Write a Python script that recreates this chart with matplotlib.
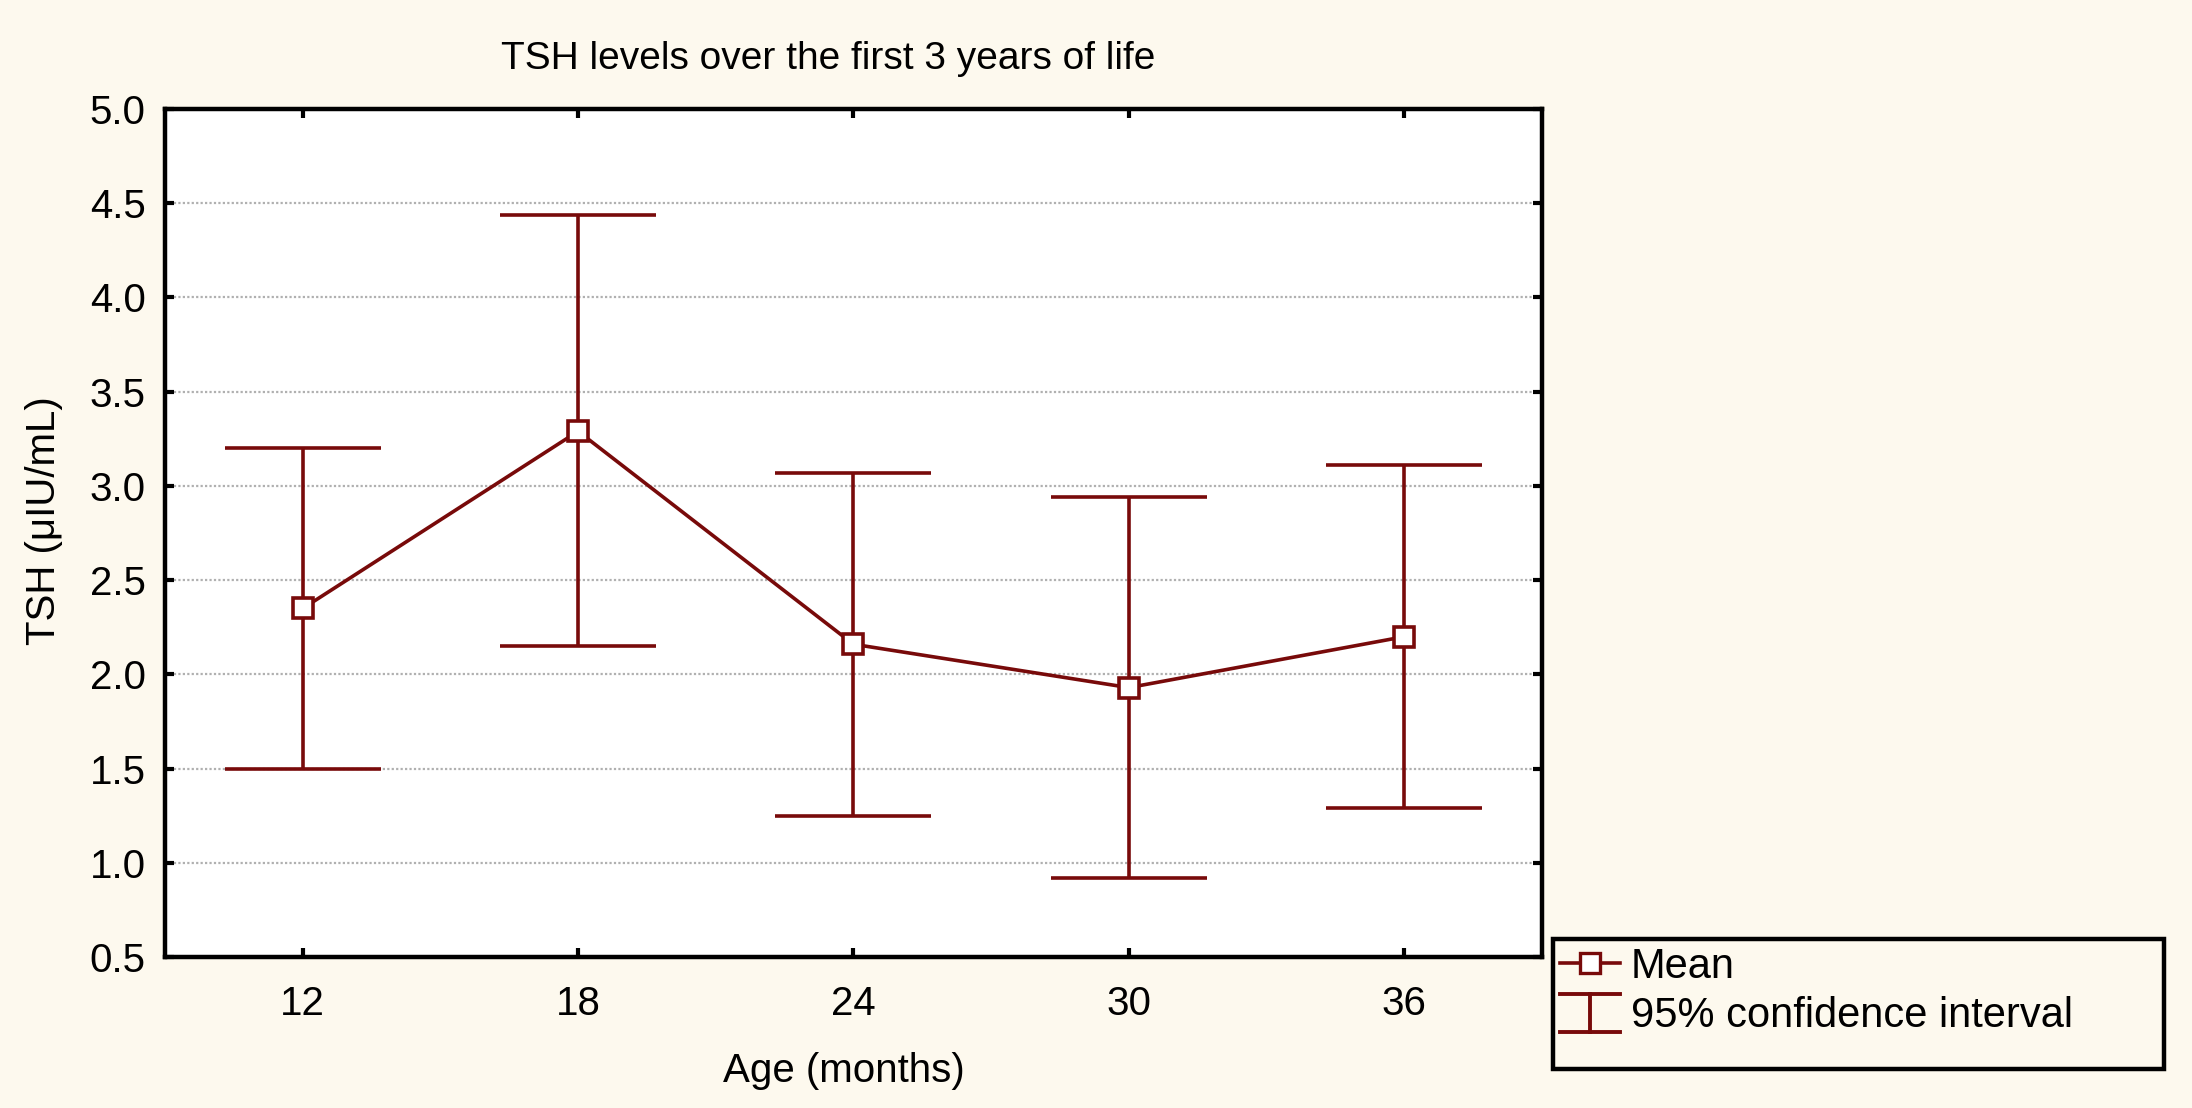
import matplotlib
matplotlib.use("Agg")
import matplotlib.pyplot as plt
from matplotlib.lines import Line2D
from matplotlib.patches import Rectangle
from matplotlib.legend_handler import HandlerBase
import numpy as np

# data
ages = [12, 18, 24, 30, 36]
tsh_mean = [2.35, 3.29, 2.16, 1.93, 2.20]
ci_low = [1.50, 2.15, 1.25, 0.92, 1.29]
ci_high = [3.20, 4.44, 3.07, 2.94, 3.11]
yticks = [0.5, 1.0, 1.5, 2.0, 2.5, 3.0, 3.5, 4.0, 4.5, 5.0]

red = '#780a0a'
bg = '#fdf9ee'

plt.rcParams['font.family'] = ['Liberation Sans', 'DejaVu Sans']


class IBeamHandler(HandlerBase):
    # legend symbol: vertical bar with two caps
    def create_artists(self, legend, orig_handle, xdescent, ydescent,
                       width, height, fontsize, trans):
        x0 = -xdescent
        x1 = x0 + width
        xm = (x0 + x1) / 2
        top = -ydescent + height * 1.15
        bot = -ydescent - height * 0.15
        segs = [([x0, x1], [top, top]), ([x0, x1], [bot, bot]), ([xm, xm], [bot, top])]
        arts = []
        for xs, ys in segs:
            ln = Line2D(xs, ys, color=red, lw=1.4)
            ln.set_transform(trans)
            arts.append(ln)
        return arts


fig = plt.figure(figsize=(10.96, 5.54), dpi=200, facecolor=bg)
ax = fig.add_axes([0.0753, 0.1362, 0.7034 - 0.0753, 0.9016 - 0.1362])
ax.set_facecolor('white')

mean = np.array(tsh_mean)
yerr = [mean - np.array(ci_low), np.array(ci_high) - mean]
ax.errorbar(ages, tsh_mean, yerr=yerr, color=red, lw=1.3, elinewidth=1.3,
            capsize=28, capthick=1.5, marker='s', markersize=7.5,
            markerfacecolor='white', markeredgecolor=red, markeredgewidth=1.3,
            zorder=3)

ax.set_xlim(9, 39)
ax.set_ylim(0.5, 5.0)
ax.set_xticks(ages)
ax.set_yticks(yticks)
ax.set_yticklabels(['%.1f' % v for v in yticks])
ax.yaxis.grid(True, color='#b0b0b0', linestyle=(0, (1, 1)), lw=0.8)
ax.set_axisbelow(True)

ax.tick_params(direction='in', length=3.2, width=1.5, labelsize=14.5,
               top=True, right=True, labeltop=False, labelright=False)
ax.tick_params(axis='y', pad=7)
ax.tick_params(axis='x', pad=10)
for s in ax.spines.values():
    s.set_linewidth(1.6)
    s.set_color('black')

ax.set_xlabel('Age (months)', fontsize=14.5)
ax.xaxis.set_label_coords(0.493, -0.112)
ax.set_ylabel('TSH (μIU/mL)', fontsize=14.5)
ax.yaxis.set_label_coords(-0.074, 0.515)

fig.text(0.378, 0.947, 'TSH levels over the first 3 years of life',
         ha='center', va='center', fontsize=14)

# legend box
fig.patches.append(Rectangle((0.7085, 0.0353), 0.2787, 0.1173,
                             transform=fig.transFigure, fill=False,
                             edgecolor='black', lw=1.6))
mean_h = Line2D([], [], color=red, lw=1.3, marker='s', markersize=7,
                markerfacecolor='white', markeredgecolor=red, markeredgewidth=1.2)
ci_h = object()
fig.legend([mean_h, ci_h], ['Mean', '95% confidence interval'],
           handler_map={ci_h: IBeamHandler()},
           loc='upper left', bbox_to_anchor=(0.7098, 0.149), frameon=False,
           fontsize=15, handlelength=1.45, handletextpad=0.25,
           labelspacing=0.22, borderaxespad=0, borderpad=0.1)

fig.savefig('out.png', dpi=200, facecolor=bg)
